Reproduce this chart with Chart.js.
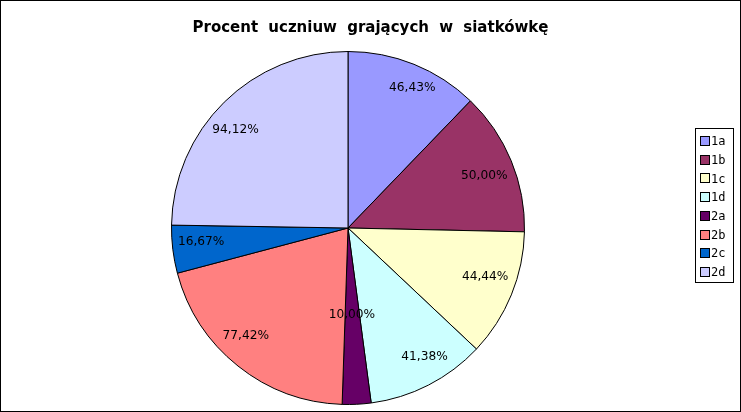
<!DOCTYPE html>
<html>
<head>
<meta charset="utf-8">
<script src="https://cdn.jsdelivr.net/npm/chart.js@4"></script>
<style>
  html, body { margin: 0; padding: 0; background: #fff; }
  #wrap { width: 741px; height: 412px; }
</style>
</head>
<body>
<div id="wrap"><canvas id="pie" width="741" height="412"></canvas></div>
<script>
// chart data
const classes = ['1a', '1b', '1c', '1d', '2a', '2b', '2c', '2d'];
const percents = [46.43, 50.00, 44.44, 41.38, 10.00, 77.42, 16.67, 94.12];
const sliceColors = ['#9999FF', '#993366', '#FFFFCC', '#CCFFFF', '#660066', '#FF8080', '#0066CC', '#CCCCFF'];
const chartTitle = 'Procent uczniuw grających w siatkówkę';

// where each value label sits: fraction of radius, and nudge of angle (deg)
const labelPos = [0.872, 0.827, 0.824, 0.851, 0.492, 0.841, 0.836, 0.845];
const labelTurn = [2.7, 1.4, -2.8, -3.5, 0.2, 5.0, 1.5, -4.4];

const extras = {
  id: 'extras',
  afterDraw(chart) {
    const c = chart.ctx;
    c.save();
    // outer frame
    c.strokeStyle = '#000';
    c.lineWidth = 1;
    c.strokeRect(0.5, 0.5, chart.width - 1, chart.height - 1);

    // title
    c.fillStyle = '#000';
    c.font = 'bold 15px "DejaVu Sans"';
    c.wordSpacing = '5px';
    c.textAlign = 'center';
    c.textBaseline = 'alphabetic';
    c.fillText(chartTitle, chart.width / 2, 32);
    c.wordSpacing = '0px';

    // value labels
    c.font = '12.2px "DejaVu Sans"';
    c.textBaseline = 'middle';
    const meta = chart.getDatasetMeta(0);
    meta.data.forEach((arc, i) => {
      const p = arc.getProps(['x', 'y', 'startAngle', 'endAngle', 'outerRadius'], true);
      const mid = (p.startAngle + p.endAngle) / 2 + labelTurn[i] * Math.PI / 180;
      const r = p.outerRadius * labelPos[i];
      const txt = percents[i].toFixed(2).replace('.', ',') + '%';
      c.fillText(txt, p.x + Math.cos(mid) * r, p.y + Math.sin(mid) * r);
    });

    // legend box
    c.lineWidth = 1;
    c.strokeRect(695.5, 128.5, 38, 154);
    c.font = '12px "DejaVu Sans Mono"';
    c.textAlign = 'left';
    classes.forEach((name, i) => {
      const y = 141 + i * 18.7;
      c.fillStyle = sliceColors[i];
      c.fillRect(701, Math.round(y) - 4, 8, 8);
      c.strokeStyle = '#000';
      c.strokeRect(700.5, Math.round(y) - 4.5, 9, 9);
      c.fillStyle = '#000';
      c.fillText(name, 711, y + 1);
    });
    c.restore();
  }
};

new Chart(document.getElementById('pie').getContext('2d'), {
  type: 'pie',
  data: {
    labels: classes,
    datasets: [{
      data: percents,
      backgroundColor: sliceColors,
      borderColor: '#000',
      borderWidth: 1
    }]
  },
  options: {
    responsive: false,
    animation: false,
    layout: { padding: { left: 171, right: 216, top: 51, bottom: 7 } },
    plugins: {
      legend: { display: false },
      title: { display: false },
      tooltip: { enabled: false }
    }
  },
  plugins: [extras]
});
</script>
</body>
</html>
